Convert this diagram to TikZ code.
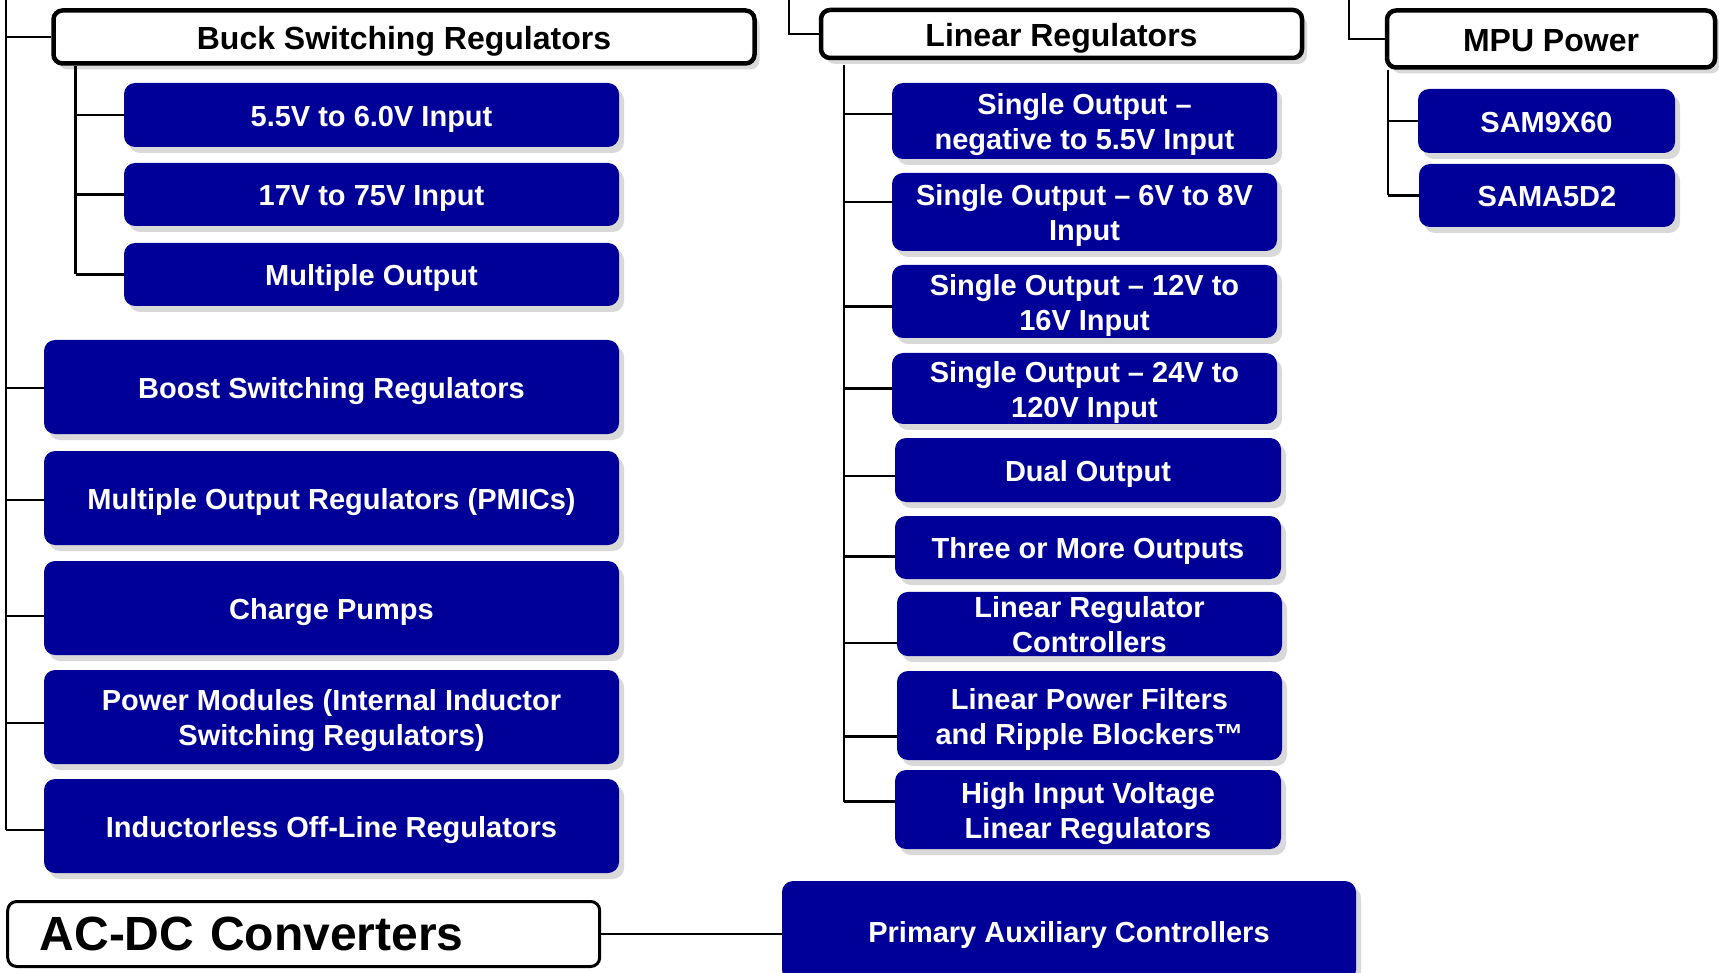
\documentclass[tikz,border=0pt]{standalone}
\usepackage{fontspec}
\setmainfont{Liberation Sans}
\usetikzlibrary{shadows}
\definecolor{navy}{RGB}{0,0,153}
\newcommand\boxstrut{\rule[-0.212em]{0pt}{1.212em}}

\begin{document}
\begin{tikzpicture}[x=1pt, y=-1pt,
    frame/.style={draw, rounded corners=9pt, fill=white, inner sep=0pt},
    hdr/.style={frame, line width=4.5pt,
                drop shadow={shadow xshift=5pt, shadow yshift=-6pt, opacity=0.3},
                font=\fontsize{32}{38}\selectfont\bfseries,
                execute at begin node=\boxstrut, execute at end node=\boxstrut},
    item/.style={fill=navy, rounded corners=11pt, text=white, align=center,
                 drop shadow={shadow xshift=5pt, shadow yshift=-6pt, opacity=0.3},
                 inner sep=0pt, font=\fontsize{29}{35}\selectfont\bfseries,
                 execute at begin node=\boxstrut, execute at end node=\boxstrut},
    wire/.style={line width=2.5pt}
  ]
  \useasboundingbox (0,0) rectangle (1719,973);
  % Headers
  \node[hdr, minimum width=701pt, minimum height=53pt] (buck) at (404,37) {Buck Switching Regulators};
  \node[hdr, minimum width=481pt, minimum height=48pt] (lin) at (1061.5,34) {Linear Regulators};
  \node[hdr, minimum width=328pt, minimum height=57pt] (mpu) at (1551,39) {MPU Power};
  \node[frame, line width=3pt, text width=528pt, inner xsep=32pt, minimum height=65pt,
        align=left, font=\fontsize{48}{56}\selectfont\bfseries] (acdc) at (303.7,934) {AC-DC Converters};
  % Buck boxes
  \node[item, minimum width=495pt, minimum height=64pt] (bin55) at (371.5,115)   {5.5V to 6.0V Input};
  \node[item, minimum width=495pt, minimum height=63pt] (bin17) at (371.5,194.5) {17V to 75V Input};
  \node[item, minimum width=495pt, minimum height=63pt] (bmul)  at (371.5,274.5) {Multiple Output};
  % Left column
  \node[item, minimum width=575pt, minimum height=94pt] (boost) at (331.5,387) {Boost Switching Regulators};
  \node[item, minimum width=575pt, minimum height=94pt] (pmic)  at (331.5,498) {Multiple Output Regulators (PMICs)};
  \node[item, minimum width=575pt, minimum height=94pt] (pump)  at (331.5,608) {Charge Pumps};
  \node[item, minimum width=575pt, minimum height=94pt] (pmod)  at (331.5,717) {\boxstrut Power Modules (Internal Inductor\\Switching Regulators)};
  \node[item, minimum width=575pt, minimum height=94pt] (indl)  at (331.5,826) {Inductorless Off-Line Regulators};
  % Linear boxes
  \node[item, minimum width=385pt, minimum height=76pt] (lneg)   at (1084.5,121)   {\boxstrut Single Output –\\negative to 5.5V Input};
  \node[item, minimum width=385pt, minimum height=78pt] (l6v)    at (1084.5,212)   {\boxstrut Single Output – 6V to 8V\\Input};
  \node[item, minimum width=385pt, minimum height=73pt] (l12v)   at (1084.5,301.5) {\boxstrut Single Output – 12V to\\16V Input};
  \node[item, minimum width=385pt, minimum height=71pt] (l24v)   at (1084.5,388.5) {\boxstrut Single Output – 24V to\\120V Input};
  \node[item, minimum width=386pt, minimum height=64pt] (ldual)  at (1088,470)     {Dual Output};
  \node[item, minimum width=386pt, minimum height=63pt] (lthree) at (1088,547.5)   {Three or More Outputs};
  \node[item, minimum width=385pt, minimum height=64pt, inner ysep=-3pt] (lctl) at (1089.5,624) {\boxstrut Linear Regulator\\Controllers};
  \node[item, minimum width=385pt, minimum height=89pt] (lflt)   at (1089.5,715.5) {\boxstrut Linear Power Filters\\and Ripple Blockers™};
  \node[item, minimum width=386pt, minimum height=79pt] (lhigh)  at (1088,809.5)   {\boxstrut High Input Voltage\\Linear Regulators};
  % MPU boxes
  \node[item, minimum width=257pt, minimum height=64pt] (sam9)  at (1546.5,121)  {SAM9X60};
  \node[item, minimum width=256pt, minimum height=63pt] (sama5) at (1547,195.5)  {SAMA5D2};
  \node[item, minimum width=574pt, minimum height=100pt] (prim) at (1069,931)    {Primary Auxiliary Controllers};
  % Lines
  \coordinate (ltop) at (6,0);
  \coordinate (lintop) at (789,0);
  \coordinate (mputop) at (1349,0);
  \coordinate (bbus) at (75.5,0);
  \coordinate (lbus) at (844,0);
  \coordinate (mbus) at (1388,0);
  \foreach \n/\d in {buck/0, boost/-1, pmic/-2, pump/-8, pmod/-6, indl/-4} {
    \path ([yshift=\d pt]\n.west) coordinate (s-\n);
    \draw[wire] (s-\n) -- (s-\n -| ltop);
  }
  \draw[wire] (ltop) -- (ltop |- s-indl);
  \foreach \n in {bin55, bin17, bmul}
    \draw[wire] (\n.west) -- (\n.west -| bbus);
  \draw[wire] (bbus |- buck.south) -- (bbus |- bmul.west);
  \draw[wire] (lintop) |- (lin.west);
  \foreach \n/\d in {lneg/7, l6v/10, l12v/-5, l24v/0, ldual/-6, lthree/-9, lctl/-19, lflt/-21, lhigh/8} {
    \path ([yshift=\d pt]\n.west) coordinate (s-\n);
    \draw[wire] (s-\n) -- (s-\n -| lbus);
  }
  \draw[wire] (lbus |- lin.south) ++(0,5) -- (lbus |- s-lhigh);
  \draw[wire] (mputop) |- (mpu.west);
  \foreach \n in {sam9, sama5}
    \draw[wire] (\n.west) -- (\n.west -| mbus);
  \draw[wire] (mbus |- mpu.south) -- (mbus |- sama5.west);
  \draw[wire] (acdc.east) -- (acdc.east -| prim.west);
\end{tikzpicture}
\end{document}
